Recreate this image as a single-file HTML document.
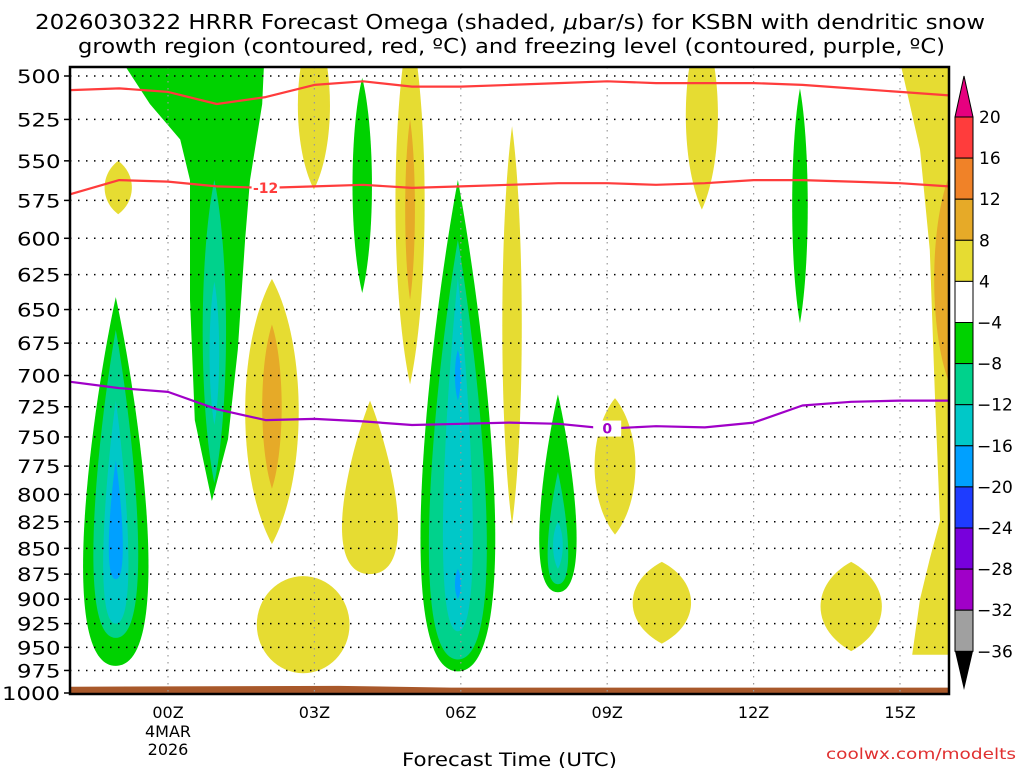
<!DOCTYPE html>
<html><head><meta charset="utf-8">
<style>
body{margin:0;background:#fff;}
svg{display:block;font-family:"DejaVu Sans","Liberation Sans",sans-serif;}
</style></head>
<body>
<svg id="chart" width="1024" height="768" viewBox="0 0 1024 768">
<defs><clipPath id="plotclip"><rect x="70" y="67" width="879" height="627"/></clipPath></defs>
<text x="35" y="29" font-size="20" textLength="950" lengthAdjust="spacingAndGlyphs">2026030322 HRRR Forecast Omega (shaded, <tspan font-style="italic">μ</tspan>bar/s) for KSBN with dendritic snow</text>
<text x="78" y="53" font-size="20" textLength="867" lengthAdjust="spacingAndGlyphs">growth region (contoured, red, ºC) and freezing level (contoured, purple, ºC)</text>
<g id="shades" clip-path="url(#plotclip)"></g>
<g id="grid"></g>
<g id="lines" clip-path="url(#plotclip)"></g>
<rect x="70" y="67" width="879" height="627" fill="none" stroke="#000" stroke-width="2.5"/>
<g id="yaxis"></g>
<g id="xaxis"></g>
<text x="402" y="766" font-size="19" textLength="215" lengthAdjust="spacingAndGlyphs">Forecast Time (UTC)</text>
<text x="826" y="759" font-size="15" fill="#e03030" textLength="190" lengthAdjust="spacingAndGlyphs">coolwx.com/modelts</text>
<g id="cbar"></g>
</svg>
<script>
const pressureTicks=[500,525,550,575,600,625,650,675,700,725,750,775,800,825,850,875,900,925,950,975,1000];
const hourTicks=[0,3,6,9,12,15];
const hourLabels=["00Z","03Z","06Z","09Z","12Z","15Z"];
const lineHours=[-2,-1,0,1,2,3,4,5,6,7,8,9,10,11,12,13,14,15,16];
const redUpper=[508,507,509,516,512,505,503,506,506,505,504,503,504,504,504,505,507,509,511];
const redLower=[571,562,563,566,567,566,565,567,566,565,564,564,565,564,562,562,563,564,566];
const freezing=[705,710,713,727,736,735,737,740,739,738,739,743,741,742,738,724,721,720,720];
const cbLevels=[20,16,12,8,4,-4,-8,-12,-16,-20,-24,-28,-32,-36];
const cbColors=["#ff3c3c","#f08228","#e6aa28","#e6dc32","#ffffff","#00d200","#00d28c","#00c8c8","#00a0ff","#1e3cff","#7800dc","#a000c8","#a0a0a0"];
// blobs: center hour, top pressure, bottom pressure, half width (hours), color index, shape
const blobHour=[-1.07,-1.07,-1.07,-1.07, 3.98, 5.94,5.94,5.94,5.94,5.94, 7.99,7.99,7.99, 12.95,
 -1.02,2.99,2.13,2.13,4.14,4.96,4.96,7.05,9.16,2.77,10.12,14.0,10.94,16.0,0.95,0.95];
const blobPTop=[641,665,720,770, 501, 562,601,627,680,870, 715,780,825, 507,
 550,470,628,661,720,470,525,529,718,877,863,863,470,560,562,630];
const blobPBot=[970,940,925,880, 638, 976,963,933,720,900, 893,885,870, 660,
 584,568,846,795,875,707,643,828,837,978,946,954,581,705,790,740];
const blobHalfW=[0.7,0.48,0.27,0.15, 0.2, 0.8,0.62,0.32,0.06,0.06, 0.4,0.22,0.1, 0.16,
 0.28,0.33,0.55,0.2,0.6,0.3,0.1,0.2,0.42,0.95,0.6,0.63,0.33,0.3,0.24,0.1];
const blobColor=[5,6,7,8, 5, 5,6,7,8,8, 5,6,7, 5,
 3,3,3,2,3,3,2,3,3,3,3,3,3,2,6,7];
const blobShape=["d","d","d","d","l","d","d","d","l","l","d","d","l","l",
 "l","l","l","l","d","l","l","l","l","e","l","l","l","l","l","l"];
const funnelHours=[-1.23,-0.37,0.25,0.45,0.45,0.55,0.9,1.23,1.43,1.58,1.68,1.93,1.99];
const funnelP=[480,516,537,562,643,736,806,752,680,601,562,516,480];
const rightHours=[14.9,15.41,15.61,15.72,15.82,15.61,15.41,15.25,16.2,16.2];
const rightP=[480,543,608,720,824,860,900,958,958,480];
const groundHours=[-2,3.5,5.8,16.2];
const groundP=[993,992,994,994];

const NS="http://www.w3.org/2000/svg";
const X=h=>168+h*48.8;
const Y=p=>76+617*Math.log2(p/500);
function mk(tag,attrs,parent){const e=document.createElementNS(NS,tag);for(const k in attrs)e.setAttribute(k,attrs[k]);parent.appendChild(e);return e;}
const shades=document.getElementById('shades');
function poly(hs,ps,fill,name){
  const pts=hs.map((h,i)=>X(h).toFixed(1)+','+Y(ps[i]).toFixed(1)).join(' ');
  const e=mk('polygon',{points:pts,fill:fill},shades);
  
  
}
poly(funnelHours,funnelP,cbColors[5],'upward-motion-funnel');
poly(rightHours,rightP,cbColors[3],'right-edge-yellow-region');
for(let i=0;i<blobHour.length;i++){
  const cx=X(blobHour[i]),yt=Y(blobPTop[i]),yb=Y(blobPBot[i]),w=blobHalfW[i]*48.8,H=yb-yt;
  let d;
  if(blobShape[i]==='e'){
    const e=mk('ellipse',{cx:cx,cy:(yt+yb)/2,rx:w,ry:H/2,fill:cbColors[blobColor[i]]},shades);
    
    
    continue;
  } else if(blobShape[i]==='d'){
    d=`M${cx},${yt} C${cx+0.7*w},${yt+0.3*H} ${cx+1.75*w},${yb} ${cx},${yb} C${cx-1.75*w},${yb} ${cx-0.7*w},${yt+0.3*H} ${cx},${yt}Z`;
  } else {
    d=`M${cx},${yt} C${cx+1.33*w},${yt+0.25*H} ${cx+1.33*w},${yb-0.25*H} ${cx},${yb} C${cx-1.33*w},${yb-0.25*H} ${cx-1.33*w},${yt+0.25*H} ${cx},${yt}Z`;
  }
  const e=mk('path',{d:d,fill:cbColors[blobColor[i]]},shades);
  
  
}
{
  const pts=groundHours.map((h,i)=>X(h)+','+Y(groundP[i])).join(' ')+` ${X(16.2)},700 ${X(-2)},700`;
  const g=mk('polygon',{points:pts,fill:'#a8582a'},shades);
  
  
}
const grid=document.getElementById('grid');
pressureTicks.forEach(p=>{
  if(p===1000)return;
  const l=mk('line',{x1:70,x2:949,y1:Y(p),y2:Y(p),stroke:'#000','stroke-width':1.5,'stroke-dasharray':'1.5,6.5'},grid);
  
  
});
hourTicks.forEach(h=>{
  const l=mk('line',{x1:X(h),x2:X(h),y1:67,y2:694,stroke:'#999','stroke-width':1.2,'stroke-dasharray':'1.5,5.5'},grid);
  
  
});
const lines=document.getElementById('lines');
function curve(vals,color,name){
  const pts=lineHours.map((h,i)=>X(h).toFixed(1)+','+Y(vals[i]).toFixed(1)).join(' ');
  const e=mk('polyline',{points:pts,fill:'none',stroke:color,'stroke-width':2.2,'stroke-linejoin':'round'},lines);
  
  
}
curve(redUpper,'#ff3c3c','dgz-upper-contour');
curve(redLower,'#ff3c3c','dgz-lower-contour');
curve(freezing,'#a000c8','freezing-level-contour');
function clabel(h,vals,txt,color,name){
  const i=lineHours.indexOf(h);const x=X(h),y=Y(vals[i]);
  const r=mk('rect',{x:x-14,y:y-8,width:28,height:16,fill:'#fff'},lines);
  
  
  const t=mk('text',{x:x,y:y+5,'text-anchor':'middle','font-size':14,'font-weight':'bold',fill:color},lines);
  t.textContent=txt;
  
  
}
clabel(2,redLower,'-12','#ff3c3c','dgz-contour-label');
clabel(9,freezing,'0','#a000c8','freezing-contour-label');
const ya=document.getElementById('yaxis');
pressureTicks.forEach(p=>{
  const s=String(p);
  const t=mk('text',{x:62-15*s.length,y:Y(p)+7,'font-size':19,textLength:14.5*s.length,lengthAdjust:'spacingAndGlyphs'},ya);
  t.textContent=s;
  
  
  const k=mk('line',{x1:64,x2:70,y1:Y(p),y2:Y(p),stroke:'#000','stroke-width':1.5},ya);
  
  
});
const xa=document.getElementById('xaxis');
hourTicks.forEach((h,i)=>{
  const t=mk('text',{x:X(h),y:718,'text-anchor':'middle','font-size':16},xa);
  t.textContent=hourLabels[i];
  
  
});
{
  const t1=mk('text',{x:X(0),y:737,'text-anchor':'middle','font-size':16},xa);
  t1.textContent='4MAR';
  
  
  const t2=mk('text',{x:X(0),y:755,'text-anchor':'middle','font-size':16},xa);
  t2.textContent='2026';
  
  
}
const cb=document.getElementById('cbar');
const cbTop=117,cbStep=41.1,cx0=955,cw=18;
cbColors.forEach((c,i)=>{
  const r=mk('rect',{x:cx0,y:cbTop+i*cbStep,width:cw,height:cbStep,fill:c,stroke:'#000','stroke-width':1},cb);
  
  
});
{
  const bot=cbTop+cbColors.length*cbStep;
  const a=mk('polygon',{points:`${cx0},${cbTop} ${cx0+cw},${cbTop} ${cx0+cw/2},76`,fill:'#e6007f',stroke:'#000','stroke-width':1},cb);
  
  
  const b=mk('polygon',{points:`${cx0},${bot} ${cx0+cw},${bot} ${cx0+cw/2},690`,fill:'#000'},cb);
  
  
}
cbLevels.forEach((v,i)=>{
  const t=mk('text',{x:v<0?977:979,y:cbTop+i*cbStep+6,'font-size':17},cb);
  t.textContent=v<0?'\u2212'+(-v):String(v);
  
  
});
</script>
</body></html>
